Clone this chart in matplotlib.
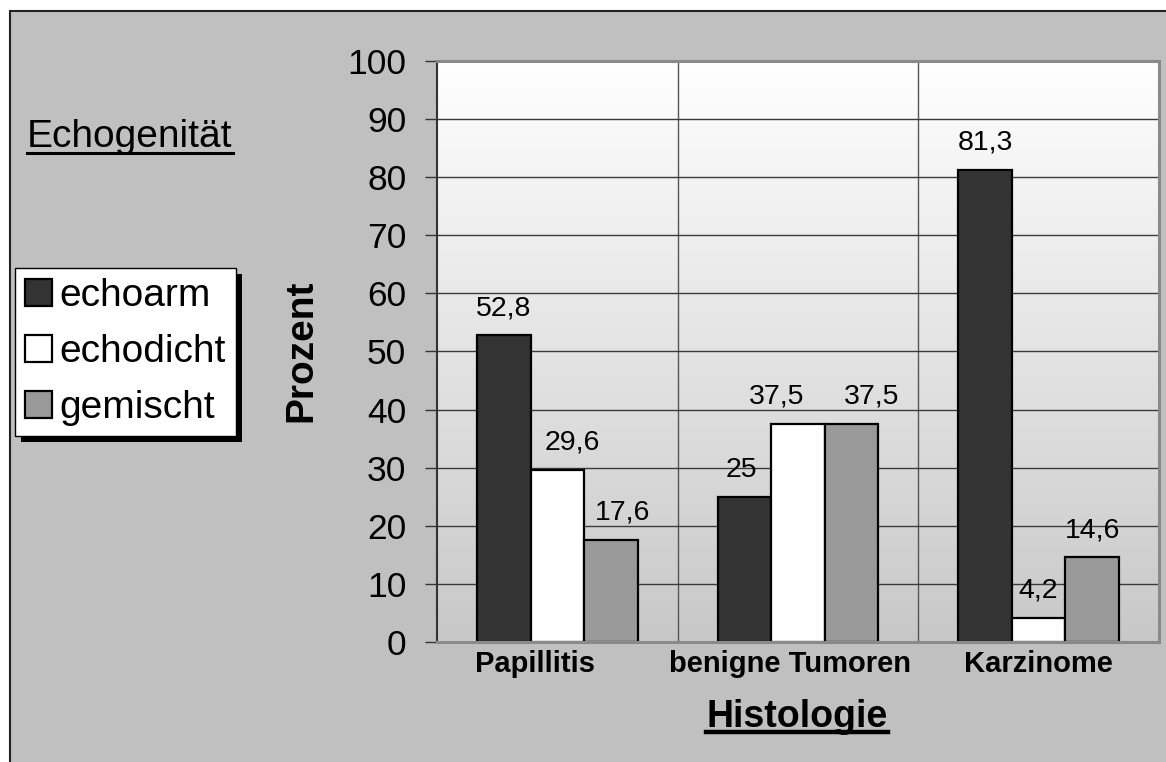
import numpy as np
import matplotlib
matplotlib.use("Agg")
import matplotlib.pyplot as plt
from matplotlib.patches import Rectangle
from matplotlib.lines import Line2D
from matplotlib.transforms import IdentityTransform, ScaledTranslation
from matplotlib.colors import LinearSegmentedColormap

plt.rcParams['font.family'] = ['Liberation Sans', 'DejaVu Sans']

categories = ["Papillitis", "benigne Tumoren", "Karzinome"]
series_names = ["echoarm", "echodicht", "gemischt"]
echoarm = [52.8, 25.0, 81.3]
echodicht = [29.6, 37.5, 4.2]
gemischt = [17.6, 37.5, 14.6]
y_ticks = [0, 10, 20, 30, 40, 50, 60, 70, 80, 90, 100]

series_values = [echoarm, echodicht, gemischt]
series_colors = ["#333333", "#ffffff", "#999999"]

# hand-placed horizontal nudges (pixels) for value labels and category labels
value_label_dx = [[0, -3, 0], [15, -21, -1], [12, 20, 0]]
category_label_dx = [-22, -8, 0]

W, H = 1166, 762
fig = plt.figure(figsize=(W / 100, H / 100), dpi=100)
fig.patch.set_facecolor("white")

# grey chart area with a dark frame line on the top and left
frame = Rectangle((10 / W, -0.1), 1.2, 1 - 11 / H + 0.1, transform=fig.transFigure,
                  facecolor="#c0c0c0", edgecolor="#222222", lw=1.5, zorder=0)
fig.add_artist(frame)

ax = fig.add_axes([437 / W, 1 - 642 / H, (1159 - 437) / W, (642 - 61) / H])
ax.set_xlim(-0.5, len(categories) - 0.5)
ax.set_ylim(0, 100)

# plot area fill: white at the top fading to light grey
grad = LinearSegmentedColormap.from_list("plotfill", ["#ffffff", "#c8c8c8"])
ax.imshow(np.linspace(0, 1, 256).reshape(-1, 1), extent=(-0.5, len(categories) - 0.5, 0, 100),
          aspect="auto", cmap=grad, origin="upper", zorder=0)

x = np.arange(len(categories))
width = 1 / 4.5
bar_groups = []
for i, (vals, col) in enumerate(zip(series_values, series_colors)):
    bars = ax.bar(x + (i - 1) * width, vals, width, color=col, edgecolor="black",
                  linewidth=1.6, zorder=2, label=series_names[i])
    bar_groups.append(bars)
    for j, (xi, v) in enumerate(zip(x + (i - 1) * width, vals)):
        ax.annotate(f"{v:g}".replace(".", ","), (xi, v),
                    xytext=(value_label_dx[i][j] * 0.72, 14.5),
                    textcoords="offset points", ha="center", va="baseline",
                    fontsize=20.5, zorder=3)

ax.set_axisbelow(True)
ax.set_yticks(y_ticks)
ax.tick_params(axis="y", direction="out", length=8.6, width=1, color="#333333",
               labelsize=25.5, pad=13.5)
ax.yaxis.grid(True, color="#3a3a3a", lw=1)
ax.set_xticks(x)
ax.set_xticklabels(categories, fontsize=21, fontweight="bold")
ax.tick_params(axis="x", which="major", length=0, pad=6)
for lab, dx in zip(ax.get_xticklabels(), category_label_dx):
    lab.set_transform(lab.get_transform() + ScaledTranslation(dx / 100, 0, fig.dpi_scale_trans))
ax.set_xticks([0.5, 1.5], minor=True)
ax.tick_params(axis="x", which="minor", length=0)
ax.xaxis.grid(True, which="minor", color="#555555", lw=1)

ax.spines["left"].set_color("#333333")
ax.spines["left"].set_linewidth(1.5)
for s in ("top", "right", "bottom"):
    ax.spines[s].set_color("#8a8a8a")
    ax.spines[s].set_linewidth(2.2)

fig.text(301 / W, 1 - 351 / H, "Prozent", rotation=90, ha="center", va="center",
         fontsize=28, fontweight="bold")
t_echo = fig.text(27 / W, 1 - 147 / H, "Echogenität", ha="left", va="baseline", fontsize=28)
t_hist = fig.text(797 / W, 1 - 727 / H, "Histologie", ha="center", va="baseline",
                  fontsize=27, fontweight="bold")

leg = fig.legend(handles=bar_groups, labels=series_names, loc="upper left",
                 bbox_to_anchor=(15 / W, 1 - 268 / H), borderaxespad=0, fontsize=28,
                 frameon=True, fancybox=False, edgecolor="black", facecolor="white",
                 framealpha=1, handlelength=0.7, handleheight=0.7, handletextpad=0.2,
                 labelspacing=0.52, borderpad=0.25)
leg.get_frame().set_linewidth(1)

fig.canvas.draw()
renderer = fig.canvas.get_renderer()

# drop shadow behind the legend box
bb = leg.get_window_extent(renderer)
shadow = Rectangle((bb.x0 + 6, bb.y0 - 6), bb.width, bb.height, transform=IdentityTransform(),
                   facecolor="black", edgecolor="none", zorder=4)
fig.add_artist(shadow)

# underlines for the two titles
for t, y_px, lw in ((t_echo, 153, 2.2), (t_hist, 732, 3.2)):
    tb = t.get_window_extent(renderer)
    fig.add_artist(Line2D([tb.x0 / W, tb.x1 / W], [1 - y_px / H, 1 - y_px / H],
                          transform=fig.transFigure, color="black", lw=lw))

fig.savefig("out.png", dpi=100)
